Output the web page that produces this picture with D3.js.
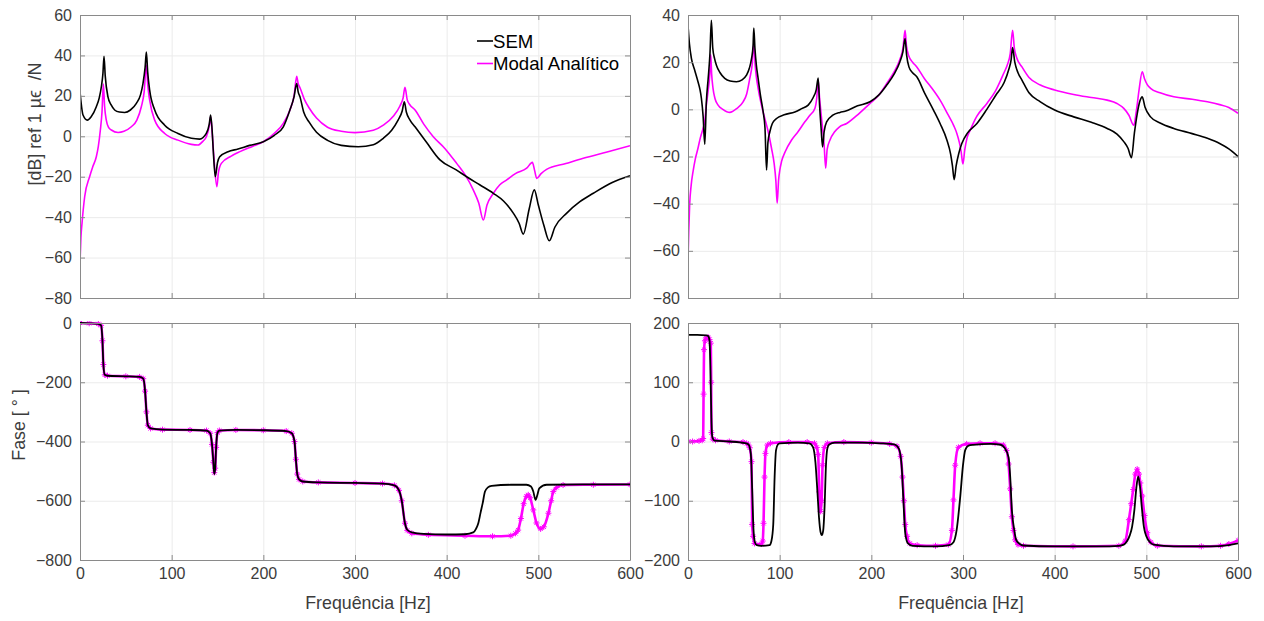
<!DOCTYPE html>
<html>
<head>
<meta charset="utf-8">
<script src="https://cdn.jsdelivr.net/npm/d3@7"></script>
<style>
    body { margin: 0; background: #fff; }
    text { font-family: "Liberation Sans", Arial, sans-serif; }
</style>
</head>
<body>
<svg id="chart" width="1264" height="621"></svg>
<script>
// frequency ticks shared by all panels
var freqTicks = [0, 100, 200, 300, 400, 500, 600];
var magTicksL = [-80, -60, -40, -20, 0, 20, 40, 60];
var magTicksR = [-80, -60, -40, -20, 0, 20, 40];
var phaseTicksL = [-800, -600, -400, -200, 0];
var phaseTicksR = [-200, -100, 0, 100, 200];

// left magnitude, SEM [Hz, dB]
var semMagL = [[0,22],[3.3,10.5],[8,8],[12,9.5],[17.8,14.6],[21,19],[23.3,24.5],[25,31],[26.2,39.6],[27.5,30],[30.5,19.5],[34,15.5],[37.8,13],[43,12],[48.7,11.8],[55,13],[61.5,16.3],[66,20.5],[68.7,26.1],[71,34],[72.4,41.7],[73.8,32],[76,22.8],[81.5,13],[92.4,5.5],[106.9,1.4],[121.5,-1],[130.5,-1.4],[137.8,1.4],[141,6],[142.5,10.5],[144,4],[145.5,-8],[147.6,-20],[150,-13],[152.4,-10.1],[161.5,-7.6],[172.4,-6.3],[185,-4.5],[200,-2.7],[212,0.5],[221.8,4.7],[229,13],[233.5,19.5],[236.4,26.1],[238,22],[240,19.5],[244,12],[250,7],[258,2],[270,-2],[285,-4.5],[303.6,-5.2],[320,-4.2],[330.9,-1],[340,3],[347,8],[351.5,12.5],[353.8,17],[356,12],[360,8],[365.5,4.7],[378,-3],[392.7,-11.7],[410,-16.5],[421.8,-20],[436,-24],[450.9,-28.2],[462,-32],[472.7,-38],[479,-43],[483.6,-48.4],[490,-36],[495.6,-26.5],[500,-34],[506,-44],[512,-51.7],[518,-45],[531,-38],[545,-32.5],[560,-28.2],[580,-23],[600,-19.5]];
// left magnitude, Modal Analitico
var modMagL = [[0,-62.7],[1,-50],[2.2,-43],[5.1,-29.9],[10.5,-20],[14,-15],[17.8,-10.1],[20,-5],[22.2,3.1],[24,12],[25.5,25.8],[26.8,15],[28.7,8],[31,4.5],[34.2,3.1],[41.5,1.9],[48,2.5],[56,4.7],[62,8],[66.9,14.6],[70,22],[72.4,35.2],[74,25],[76,17.9],[81.5,8],[92.4,1.4],[106.9,-1.9],[121.5,-4],[128.7,-4.3],[134,-2.5],[137.8,-0.2],[141,5],[142.5,9.6],[144,3],[146,-10],[149.3,-24.9],[151,-18],[154.2,-13.4],[165,-9.8],[174.5,-7.6],[188,-5],[200,-2.7],[212,1.5],[221.8,6.4],[229,13],[233.5,20],[236.4,29.7],[238,26],[240,24],[245,18],[250,14],[258,9],[270,4.5],[285,2.5],[300,1.8],[320,3],[330.9,5.5],[342,10],[349,15],[352.5,19],[354.5,24.2],[357,18],[360,15.5],[365.5,13],[375,6],[385.4,-0.2],[398,-6],[410.9,-13.4],[420,-19],[429,-26.5],[435,-33],[440,-41.4],[444,-34],[451,-28.2],[458,-24],[465.5,-21.6],[475,-18.5],[487.3,-15.8],[493.5,-12.9],[496,-17],[498.2,-20.8],[503,-18.5],[509,-16.4],[530,-13.5],[549,-10.9],[575,-7.8],[600,-4.7]];

// right magnitude, SEM
var semMagR = [[0,35.6],[1.5,28],[3.7,21.6],[7,17],[10.9,11.7],[13,8.5],[14.6,4.7],[16.5,-3],[18.3,-14.8],[20,3],[22,13],[24,24],[25.5,37.8],[27,26],[29,21.5],[31,18.7],[35,15.5],[40.1,13.1],[46,12],[52.9,11.7],[59,12.5],[63.8,14.5],[67,17.5],[69.3,21.5],[71,27],[71.8,34.5],[73,26],[74.5,19],[76.5,13.1],[79,6],[82,-1.1],[84,-8],[85.7,-25.7],[87.2,-14],[89.3,-9.5],[92,-6],[96.6,-3.9],[105,-2.3],[116.6,-1.1],[124,0.3],[131.1,1.8],[136.6,5],[140,8.5],[142,13.3],[143.5,2],[145.2,-8],[146.8,-15.9],[148.5,-9.5],[151.2,-5.3],[158,-2.5],[165.8,-1.3],[171.3,-0.8],[185,1.5],[198.6,3.2],[208,6],[216.8,10.3],[225,15],[231,20],[234.5,24.5],[236.8,30],[238.5,23],[241,18],[245,15.5],[249.6,13.8],[258,7],[267.8,-0.3],[275,-6],[282.4,-13],[286.5,-19],[288.5,-24],[290.4,-29.8],[292.5,-24],[295.5,-18.5],[298.8,-14.4],[305,-10],[315.2,-6],[326,0],[337,6.7],[345,11.5],[350,17],[352.5,21],[354.1,26.2],[356.5,20],[360,15.5],[364.3,12.4],[372,7],[384.4,3.2],[400,-0.3],[420.8,-3.2],[440,-5.5],[457.3,-8.1],[468,-10.5],[475.4,-13.7],[480,-16.5],[483.8,-20.5],[487,-10],[490,-2],[493,3.5],[495.5,5.3],[498.5,1],[504.6,-3.2],[515,-5.8],[530,-8.1],[550,-10.3],[566.6,-12.3],[580,-14.5],[590,-16.8],[600,-20]];
// right magnitude, Modal Analitico
var modMagR = [[0,-64.5],[0.8,-52],[1.8,-40.5],[3.5,-32],[5.5,-26.4],[8,-21],[10.9,-16.5],[13.5,-12],[16.4,-8.1],[18.3,-5],[20,1.8],[22,8],[23.8,15],[24.8,23.2],[25.8,15],[27.3,8.9],[29.5,4.5],[32.8,1.8],[38,0],[45.6,-1.3],[53,0.3],[60.1,3.2],[64,6.5],[67.4,13.1],[70,19],[71.8,27.9],[73.2,19],[74.5,14],[76.5,8.9],[80,2],[83.8,-3.9],[87.5,-9.5],[91.1,-16.5],[94,-23],[95.8,-30],[97.3,-39.8],[98.8,-30],[100.2,-25.7],[102,-22.2],[106,-18],[113,-13],[120,-9.5],[127.5,-5.3],[133,-2.5],[138.5,0.5],[140.5,5],[142,12.4],[143.5,5],[146,-5],[148.5,-15],[150.2,-25],[151.8,-17],[154.9,-13],[160,-9.5],[165,-7.5],[173.1,-6],[186,-2],[198.6,2.5],[208,6],[216.8,11],[225,16],[231,21],[234.5,26],[236.8,33.5],[238.3,27],[241,22.5],[245,20],[249.6,18],[258,13],[265,9.5],[275,3.9],[284,-2.5],[290,-7],[293.3,-10.2],[296,-14],[298,-18],[299.9,-23.2],[302,-17],[304.5,-12],[307.9,-8.8],[315,-3],[326.1,2.5],[335,7.5],[344.3,15.2],[348.5,19],[351.5,23.5],[354.1,33.5],[356,26],[358.5,22],[364.3,18],[372,13.5],[384.4,10.3],[400,8.2],[420.8,6.3],[440,5],[457.3,3.9],[468,2.5],[475.4,0.4],[481,-2.5],[486.3,-6.7],[489,-1],[492,8],[495.5,15.9],[498,13],[501,10.5],[504.6,8.9],[515,7],[530,5.3],[550,4.3],[566.6,3.2],[580,2],[590,0.8],[600,-1.7]];

// left phase [Hz, deg]
var semPhL = [[0,0],[10,-1],[20,-3],[23,-8],[24.5,-60],[25.5,-140],[27,-175],[30,-178],[50,-180],[65,-182],[69,-188],[71,-230],[72.5,-300],[74,-345],[77,-356],[90,-360],[120,-361],[138,-363],[142,-372],[144,-410],[145.5,-470],[146.5,-510],[147.5,-490],[148.5,-420],[150,-370],[152,-363],[170,-361],[200,-362],[225,-365],[231,-372],[234,-400],[235.5,-460],[237,-510],[239,-528],[243,-535],[260,-538],[300,-540],[330,-542],[343,-548],[348,-565],[351,-600],[354.5,-676],[357,-698],[362,-707],[375,-712],[400,-714],[420,-713],[429,-707],[432,-695],[434.5,-676],[437,-640],[439.3,-608],[441.8,-569],[445,-555],[449,-550],[470,-546],[487,-546],[492,-552],[494.5,-569],[497,-597],[499,-580],[501,-558],[509,-546],[550,-545],[600,-545]];
var modPhL = [[0,0],[10,-1],[20,-3],[23,-8],[24.5,-60],[25.5,-140],[27,-175],[30,-178],[50,-180],[65,-182],[69,-188],[71,-230],[72.5,-300],[74,-345],[77,-356],[90,-360],[120,-361],[138,-363],[142,-372],[144,-410],[145.5,-470],[146.5,-505],[147.5,-490],[148.5,-420],[150,-370],[152,-363],[170,-361],[200,-362],[225,-365],[231,-372],[234,-400],[235.5,-460],[237,-510],[239,-528],[243,-535],[260,-538],[300,-540],[330,-542],[343,-548],[348,-565],[351,-600],[354.5,-676],[357,-700],[362,-710],[380,-715],[420,-718],[450,-720],[470,-718],[475,-710],[478,-699],[481,-660],[484,-610],[487,-585],[489,-580],[491,-590],[494.5,-631],[498,-675],[502.5,-695],[506,-688],[511,-642],[514,-600],[516.3,-569],[520,-555],[527,-547],[560,-546],[600,-545]];

// right phase
var semPhR = [[0,180],[10,180],[20,179],[22,178],[23.5,170],[24.5,120],[25.5,40],[26.5,8],[29,1.5],[45,0],[62,-2.8],[66,-5],[68.5,-20],[70,-80],[71.5,-150],[73,-170],[75,-175],[80,-176],[89,-175],[91,-168],[93,-140],[94.5,-60],[96,-15],[98,-5],[100,-3],[120,-2],[132.5,-3],[136.5,-10],[139,-35],[141,-80],[143,-130],[144.5,-152],[146,-158],[147.5,-150],[149,-110],[150.5,-40],[152,-12],[154,-5],[160,-2],[190,-2],[210,-3],[225,-5],[230,-12],[233,-40],[235,-100],[237,-155],[240,-172],[245,-176],[270,-177],[285,-175],[289.6,-170],[293,-150],[297,-93],[300,-40],[302.4,-14.6],[306,-7],[311,-5.6],[330,-4],[341,-5.5],[345,-10],[349.7,-26.6],[351.5,-60],[353.3,-115.5],[356,-150],[358,-166],[362,-173],[366,-175.5],[400,-177],[450,-177],[470,-176],[475.4,-174],[479,-168],[482,-158],[484.5,-143.7],[487,-115],[489,-80],[491.1,-59],[493,-75],[495,-110],[497.3,-143.7],[500,-160],[504,-170],[508,-174],[530,-177],[570,-177],[590,-175],[600,-172]];
var modPhR = [[0,0],[5,0],[12,1],[15.5,2],[16.5,5],[17,80],[17.5,155],[18.5,170],[19.7,175],[22,176],[23.5,172],[24.8,166],[25.3,100],[25.6,15],[27,4],[30,2],[45,0],[60,-1],[64,-3],[66,-6],[67.4,-10.6],[69.3,-34],[70,-140],[71,-160],[72.5,-172],[80,-173],[81.5,-168],[82.4,-138],[83.5,-60],[84.5,-20],[86.6,-6],[90,-3],[110,-1],[130,-1],[138,-3],[140.5,-10],[142,-22],[143.2,-85],[144.7,-118],[145.8,-100],[146.8,-40],[148.7,-10],[152,-3],[170,-1],[200,-2],[220,-4],[228,-8],[232,-25],[234,-60],[235.5,-100],[237,-140],[239,-160],[242,-172],[250,-175],[270,-176],[284,-174],[287.9,-150],[289.6,-98.6],[291.5,-40],[295,-9.8],[304,-4],[318.6,-3],[335,-3],[344,-6],[347.5,-15],[349.7,-38],[351.5,-80],[353.3,-127],[355,-150],[356.9,-166],[360,-174],[366,-176],[420,-177],[470,-176],[477,-168],[481,-132],[483.5,-105],[485.7,-81],[488,-55],[490,-46.7],[492,-55],[493.5,-70],[495.5,-92],[498,-125],[501,-154],[505,-170],[512,-176],[560,-177],[581,-176],[590,-173],[600,-167]];

var seriesNames = ["SEM", "Modal Analítico"];
var seriesColours = ["#000000", "#ff00ff"];

var svg = d3.select("#chart");
var axisColour = "#8a8a8a",
    labelColour = "#3c3c3c",
    gridColour = "#ebebeb";

var panelCount = 0;

function drawPanel(p) {
    var x = d3.scaleLinear().domain([0, 600]).range([p.left, p.right]);
    var y = d3.scaleLinear().domain(p.yDomain).range([p.bottom, p.top]);
    var w = p.right - p.left, h = p.bottom - p.top;
    var g = svg.append("g");

    // grid
    var gx = g.append("g")
        .attr("transform", "translate(0," + p.bottom + ")")
        .call(d3.axisBottom(x).tickValues(freqTicks).tickSize(-h).tickFormat(""));
    var gy = g.append("g")
        .attr("transform", "translate(" + p.left + ",0)")
        .call(d3.axisLeft(y).tickValues(p.yTicks).tickSize(-w).tickFormat(""));
    [gx, gy].forEach(function (a) {
        a.select(".domain").remove();
        a.selectAll("line").attr("stroke", gridColour);
    });

    // curves
    panelCount++;
    var clipId = "clip" + panelCount;
    svg.append("clipPath").attr("id", clipId)
        .append("rect")
        .attr("x", p.left).attr("y", p.top - 2)
        .attr("width", w).attr("height", h + 4);

    var line = d3.line()
        .x(function (d) { return x(d[0]); })
        .y(function (d) { return y(d[1]); })
        .curve(d3.curveMonotoneX);

    var plot = g.append("g").attr("clip-path", "url(#" + clipId + ")");

    // modal analitico first, SEM on top
    plot.append("path")
        .datum(p.mod)
        .attr("fill", "none")
        .attr("stroke", seriesColours[1])
        .attr("stroke-width", p.markers ? 2.6 : 1.6)
        .attr("d", line);

    if (p.markers) {
        var star = function (r) {
            var s = r * 0.7;
            return "M" + (-r) + ",0L" + r + ",0M0," + (-r) + "L0," + r +
                "M" + (-s) + "," + (-s) + "L" + s + "," + s +
                "M" + (-s) + "," + s + "L" + s + "," + (-s);
        };
        plot.append("g").selectAll("path")
            .data(p.mod)
            .enter().append("path")
            .attr("transform", function (d) { return "translate(" + x(d[0]) + "," + y(d[1]) + ")"; })
            .attr("d", star(3))
            .attr("stroke", seriesColours[1])
            .attr("stroke-width", 1)
            .attr("fill", "none");
    }

    plot.append("path")
        .datum(p.sem)
        .attr("fill", "none")
        .attr("stroke", seriesColours[0])
        .attr("stroke-width", p.markers ? 1.8 : 1.6)
        .attr("d", line);

    // box with inward ticks on all sides
    var axes = [
        { a: d3.axisBottom(x).tickValues(freqTicks), t: "translate(0," + p.bottom + ")", label: p.xLabels },
        { a: d3.axisTop(x).tickValues(freqTicks), t: "translate(0," + p.top + ")", label: false },
        { a: d3.axisLeft(y).tickValues(p.yTicks), t: "translate(" + p.left + ",0)", label: true },
        { a: d3.axisRight(y).tickValues(p.yTicks), t: "translate(" + p.right + ",0)", label: false }
    ];
    axes.forEach(function (ax) {
        ax.a.tickSizeInner(-5).tickSizeOuter(0).tickPadding(ax.label ? 8 : 0);
        if (!ax.label) ax.a.tickFormat("");
        var sel = g.append("g").attr("transform", ax.t).call(ax.a);
        sel.select(".domain").attr("stroke", axisColour);
        sel.selectAll(".tick line").attr("stroke", axisColour);
        sel.selectAll("text")
            .attr("fill", labelColour)
            .style("font-size", "16px")
            .style("font-family", '"Liberation Sans", Arial, sans-serif');
    });

    return { x: x, y: y, g: g };
}

var topL = drawPanel({ left: 80, right: 630, top: 15, bottom: 298, yDomain: [-80, 60], yTicks: magTicksL,
    sem: semMagL, mod: modMagL, markers: false, xLabels: false });
drawPanel({ left: 80, right: 630, top: 323, bottom: 560, yDomain: [-800, 0], yTicks: phaseTicksL,
    sem: semPhL, mod: modPhL, markers: true, xLabels: true });
drawPanel({ left: 688, right: 1238, top: 15, bottom: 298, yDomain: [-80, 40], yTicks: magTicksR,
    sem: semMagR, mod: modMagR, markers: false, xLabels: false });
drawPanel({ left: 688, right: 1238, top: 323, bottom: 560, yDomain: [-200, 200], yTicks: phaseTicksR,
    sem: semPhR, mod: modPhR, markers: true, xLabels: true });

// axis titles
function label(txt, x, y, rot) {
    svg.append("text")
        .attr("transform", "translate(" + x + "," + y + ")" + (rot ? " rotate(-90)" : ""))
        .attr("text-anchor", "middle")
        .attr("dominant-baseline", "central")
        .style("font-size", "17.8px")
        .style("white-space", "pre")
        .attr("fill", labelColour)
        .text(txt);
}
label("Frequência [Hz]", 368, 603, false);
label("Frequência [Hz]", 961, 603, false);
label("[dB] ref 1 µϵ  /N", 35, 124, true);
label("Fase [ ° ]", 18.5, 425, true);

// legend
var legend = topL.g.append("g");
seriesNames.forEach(function (name, i) {
    var ly = 41 + i * 22.5;
    legend.append("line")
        .attr("x1", 477).attr("x2", 493)
        .attr("y1", ly).attr("y2", ly)
        .attr("stroke", seriesColours[i])
        .attr("stroke-width", 1.6);
    legend.append("text")
        .attr("x", 493).attr("y", ly)
        .attr("dominant-baseline", "central")
        .style("font-size", "18.6px")
        .attr("fill", "#000")
        .text(name);
});
</script>
</body>
</html>
